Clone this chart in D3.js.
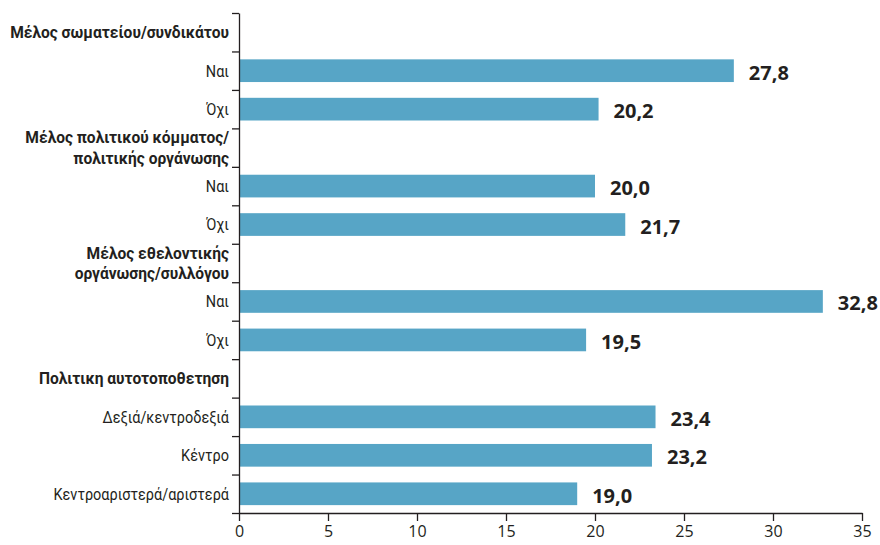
<!DOCTYPE html>
<html>
<head>
<meta charset="utf-8">
<script src="https://cdn.jsdelivr.net/npm/d3@7"></script>
<style>
  body { margin: 0; background: #fff; }
  svg { display: block; }
</style>
</head>
<body>
<div id="chart"></div>
<script>
// group headings (line breaks marked with \n)
const groups = [
    "Μέλος σωματείου/συνδικάτου",
    "Μέλος πολιτικού κόμματος/\nπολιτικής οργάνωσης",
    "Μέλος εθελοντικής\nοργάνωσης/συλλόγου",
    "Πολιτικη αυτοτοποθετηση"
];
const groupItems = [
    ["Ναι", "Όχι"],
    ["Ναι", "Όχι"],
    ["Ναι", "Όχι"],
    ["Δεξιά/κεντροδεξιά", "Κέντρο", "Κεντροαριστερά/αριστερά"]
];
const groupValues = [
    [27.8, 20.2],
    [20.0, 21.7],
    [32.8, 19.5],
    [23.4, 23.2, 19.0]
];
const xTicks = [0, 5, 10, 15, 20, 25, 30, 35];

// flatten into rows: one header row per group, then its items
var rows = [];
groups.forEach(function (g, i) {
    rows.push({ id: "g" + i, label: g, header: true });
    groupItems[i].forEach(function (it, j) {
        rows.push({ id: "g" + i + "_" + j, label: it, header: false, value: groupValues[i][j] });
    });
});

const width = 880, height = 545;
const margin = { top: 13, right: 18, bottom: 32, left: 239 };
const innerW = width - margin.left - margin.right;
const innerH = height - margin.top - margin.bottom;
const ink = "#231f20";

var svg = d3.select("#chart")
    .append("svg")
      .attr("width", width)
      .attr("height", height)
    .append("g")
      .attr("transform", "translate(" + margin.left + "," + margin.top + ")");

var x = d3.scaleLinear()
    .domain([0, 35])
    .range([0, innerW]);

var y = d3.scaleBand()
    .domain(rows.map(d => d.id))
    .range([0, innerH])
    .paddingInner(0.41)
    .paddingOuter(0.205);

// boundaries between rows, for the left tick marks
var yEdge = d3.scaleLinear()
    .domain([0, rows.length])
    .range([0, innerH]);

// bars
svg.selectAll(".bar")
    .data(rows.filter(d => !d.header))
    .enter()
    .append("rect")
      .attr("class", "bar")
      .attr("x", x(0))
      .attr("y", d => y(d.id))
      .attr("width", d => x(d.value) - x(0))
      .attr("height", y.bandwidth())
      .style("fill", "#57a5c6");

// value labels
svg.selectAll(".val")
    .data(rows.filter(d => !d.header))
    .enter()
    .append("text")
      .attr("class", "val")
      .attr("x", d => x(d.value) + 15)
      .attr("y", d => y(d.id) + y.bandwidth() / 2 + 2)
      .attr("dy", "0.35em")
      .style("font-family", "'Open Sans', sans-serif")
      .style("font-weight", 700)
      .style("font-size", "20px")
      .style("fill", ink)
      .text(d => d3.format(".1f")(d.value).replace(".", ","));

// y axis: line + ticks on the row boundaries
var yAxis = svg.append("g")
    .call(d3.axisLeft(yEdge)
        .tickValues(d3.range(rows.length + 1))
        .tickFormat("")
        .tickSize(7)
        .tickSizeOuter(0));
yAxis.selectAll("line, path").style("stroke", ink).style("stroke-width", 1.3);

// row labels (squeezed horizontally to mimic the condensed face)
var labels = svg.selectAll(".rowlab")
    .data(rows)
    .enter()
    .append("text")
      .attr("class", "rowlab")
      .attr("text-anchor", "end")
      .attr("transform", d => "translate(-10," + (y(d.id) + y.bandwidth() / 2) + ") scale(" + (d.header ? 0.9 : 0.85) + ",1)")
      .style("font-family", "Roboto, sans-serif")
      .style("font-size", d => d.header ? "17.3px" : "17px")
      .style("font-weight", d => d.header ? 700 : 400)
      .style("fill", ink);

labels.each(function (d) {
    var lines = d.label.split("\n");
    var t = d3.select(this);
    var lh = 20.5;
    lines.forEach(function (ln, k) {
        t.append("tspan")
            .attr("x", 0)
            .attr("y", (k - (lines.length - 1) / 2) * lh)
            .attr("dy", "0.35em")
            .text(ln);
    });
});

// x axis
var xAxis = svg.append("g")
    .attr("transform", "translate(0," + innerH + ")")
    .call(d3.axisBottom(x)
        .tickValues(xTicks)
        .tickSize(8)
        .tickSizeOuter(0)
        .tickPadding(5));
xAxis.selectAll("line, path").style("stroke", ink).style("stroke-width", 1.3);
xAxis.selectAll("text")
    .style("font-family", "'Open Sans', sans-serif")
    .style("font-size", "16px")
    .style("fill", ink);
</script>
</body>
</html>
